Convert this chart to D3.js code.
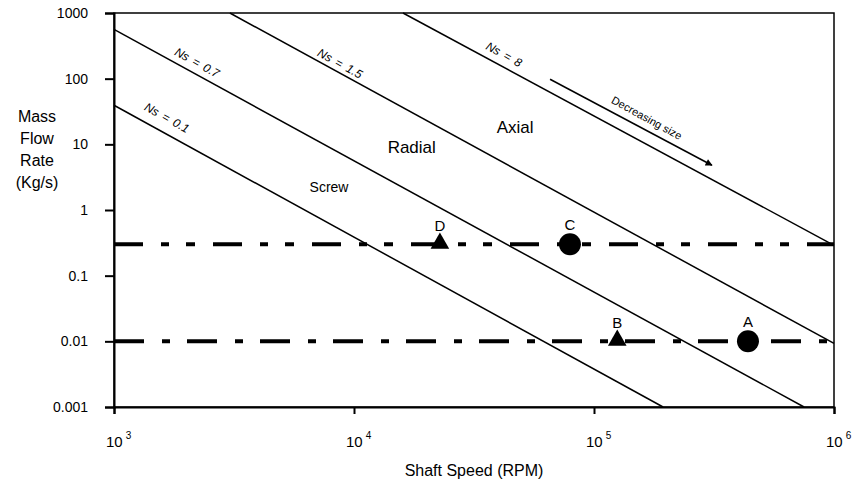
<!DOCTYPE html>
<html>
<head>
<meta charset="utf-8">
<script src="https://cdn.jsdelivr.net/npm/d3@7"></script>
<style>
	body { margin: 0; background: #fff; }
	text { font-family: Arial, 'Liberation Sans', sans-serif; fill: #000; }
</style>
</head>
<body>
<div id="chart"></div>
<script>
const width = 862;
const height = 486;
const margin = { top: 13, right: 28, bottom: 79, left: 114 };

// data ===========================================================
const xTicks = [1e3, 1e4, 1e5, 1e6];
const xTickExp = ['3', '4', '5', '6'];
const yTicks = [1000, 100, 10, 1, 0.1, 0.01, 0.001];
const yTickLabels = ['1000', '100', '10', '1', '0.1', '0.01', '0.001'];

// specific speed lines: [shaft speed, mass flow] end points
const nsNames = ['Ns = 0.1', 'Ns = 0.7', 'Ns = 1.5', 'Ns = 8'];
const nsLines = [
	[[1e3, 39.4], [1.94e5, 0.001]],
	[[1e3, 562], [7.5e5, 0.001]],
	[[3.04e3, 1000], [1e6, 0.0093]],
	[[1.6e4, 1000], [1e6, 0.29]],
];
const nsLabelAt = [[1.63e3, 22.4], [2.18e3, 155], [8.58e3, 150], [4.14e4, 206]];

// operating mass flows (dash-dot lines)
const flowLevels = [0.3, 0.01];
const flowDash = ['29,18,8,17,9,18', '30,18,8,17'];

// design points
const pointNames = ['A', 'B', 'C', 'D'];
const pointSpeed = [4.38e5, 1.25e5, 7.94e4, 2.28e4];
const pointFlow = [0.01, 0.01, 0.3, 0.3];
const pointShape = ['circle', 'triangle', 'circle', 'triangle'];

// region names
const regionNames = ['Screw', 'Radial', 'Axial'];
const regionAt = [[7.87e3, 1.85], [1.74e4, 7.3], [4.69e4, 14.7]];

const arrowFrom = [6.56e4, 98];
const arrowTo = [3.1e5, 4.8];
const arrowLabelAt = [1.63e5, 22.4];
// ================================================================

const svg = d3.select('#chart').append('svg').attr('width', width).attr('height', height);

const x = d3
	.scaleLog()
	.domain([1e3, 1e6])
	.range([margin.left, width - margin.right]);
const y = d3
	.scaleLog()
	.domain([0.001, 1000])
	.range([height - margin.bottom, margin.top]);

// angle of the Ns lines on screen
const slopeAngle = (Math.atan2(y(1) - y(100), x(1e4) - x(1e3)) * 180) / Math.PI;

// frame
svg.append('rect')
	.attr('x', x(1e3))
	.attr('y', y(1000))
	.attr('width', x(1e6) - x(1e3))
	.attr('height', y(0.001) - y(1000))
	.attr('fill', 'none')
	.attr('stroke', '#000')
	.attr('stroke-width', 1.5);

// axes
const yAxis = svg
	.append('g')
	.attr('transform', `translate(${x(1e3)},0)`)
	.call(
		d3.axisLeft(y)
			.tickValues(yTicks)
			.tickSize(9)
			.tickPadding(17)
			.tickFormat((d, i) => yTickLabels[i])
	);
yAxis.select('.domain').attr('stroke-width', 2);
yAxis.selectAll('.tick line').attr('stroke-width', 2);
yAxis.selectAll('.tick text').style('font-size', '14px').attr('font-family', 'Arial, sans-serif');

const xAxis = svg
	.append('g')
	.attr('transform', `translate(0,${y(0.001)})`)
	.call(d3.axisBottom(x).tickValues(xTicks).tickSize(7).tickFormat(''));
xAxis.select('.domain').attr('stroke-width', 2);
xAxis.selectAll('.tick line').attr('stroke-width', 2);

const xLab = svg
	.append('g')
	.selectAll('text')
	.data(xTicks)
	.join('text')
	.attr('x', (d) => x(d) - 8)
	.attr('y', y(0.001) + 40)
	.style('font-size', '15px');
xLab.append('tspan').text('10');
xLab.append('tspan')
	.attr('dx', 3)
	.attr('dy', -8)
	.style('font-size', '10px')
	.text((d, i) => xTickExp[i]);

// axis titles
svg.append('text')
	.attr('x', (x(1e3) + x(1e6)) / 2)
	.attr('y', 476)
	.attr('text-anchor', 'middle')
	.style('font-size', '16px')
	.text('Shaft Speed (RPM)');

svg.append('g')
	.selectAll('text')
	.data(['Mass', 'Flow', 'Rate', '(Kg/s)'])
	.join('text')
	.attr('x', 37)
	.attr('y', (d, i) => 122 + i * 22)
	.attr('text-anchor', 'middle')
	.style('font-size', '16px')
	.text((d) => d);

// Ns lines
const line = d3
	.line()
	.x((d) => x(d[0]))
	.y((d) => y(d[1]));

svg.append('g')
	.selectAll('path')
	.data(nsLines)
	.join('path')
	.attr('d', line)
	.attr('fill', 'none')
	.attr('stroke', '#000')
	.attr('stroke-width', 1.5);

svg.append('g')
	.selectAll('text')
	.data(nsNames)
	.join('text')
	.attr('transform', (d, i) => `translate(${x(nsLabelAt[i][0])},${y(nsLabelAt[i][1])}) rotate(${slopeAngle})`)
	.attr('text-anchor', 'middle')
	.style('font-size', '12px')
	.style('font-style', 'italic')
	.style('word-spacing', '2px')
	.text((d) => d);

// dash-dot flow levels
svg.append('g')
	.selectAll('line')
	.data(flowLevels)
	.join('line')
	.attr('x1', x(1e3))
	.attr('x2', x(1e6))
	.attr('y1', (d) => y(d))
	.attr('y2', (d) => y(d))
	.attr('stroke', '#000')
	.attr('stroke-width', 4)
	.attr('stroke-dasharray', (d, i) => flowDash[i]);

// region names
svg.append('g')
	.selectAll('text')
	.data(regionNames)
	.join('text')
	.attr('x', (d, i) => x(regionAt[i][0]))
	.attr('y', (d, i) => y(regionAt[i][1]))
	.attr('text-anchor', 'middle')
	.style('font-size', (d, i) => (i === 0 ? '14px' : '17px'))
	.text((d) => d);

// decreasing size arrow
svg.append('defs')
	.append('marker')
	.attr('id', 'arrow')
	.attr('viewBox', '0 0 10 10')
	.attr('refX', 9)
	.attr('refY', 5)
	.attr('markerWidth', 9)
	.attr('markerHeight', 7)
	.attr('markerUnits', 'userSpaceOnUse')
	.attr('orient', 'auto')
	.append('path')
	.attr('d', 'M0,0L10,5L0,10Z')
	.attr('fill', '#000');
svg.append('line')
	.attr('x1', x(arrowFrom[0]))
	.attr('y1', y(arrowFrom[1]))
	.attr('x2', x(arrowTo[0]))
	.attr('y2', y(arrowTo[1]))
	.attr('stroke', '#000')
	.attr('stroke-width', 1.5)
	.attr('marker-end', 'url(#arrow)');
svg.append('text')
	.attr('transform', `translate(${x(arrowLabelAt[0])},${y(arrowLabelAt[1])}) rotate(${slopeAngle})`)
	.attr('text-anchor', 'middle')
	.style('font-size', '11px')
	.text('Decreasing size');

// design points
const pts = svg
	.append('g')
	.selectAll('g')
	.data(pointNames)
	.join('g')
	.attr('transform', (d, i) => `translate(${x(pointSpeed[i])},${y(pointFlow[i])})`);

pts.filter((d, i) => pointShape[i] === 'circle')
	.append('circle')
	.attr('r', 11)
	.attr('fill', '#000');
pts.filter((d, i) => pointShape[i] === 'triangle')
	.append('path')
	.attr('d', d3.symbol(d3.symbolTriangle, 150))
	.attr('transform', 'translate(0,-1)')
	.attr('fill', '#000');
pts.append('text')
	.attr('y', (d, i) => (pointShape[i] === 'circle' ? -14 : -13))
	.attr('text-anchor', 'middle')
	.style('font-size', '15px')
	.text((d) => d);
</script>
</body>
</html>
